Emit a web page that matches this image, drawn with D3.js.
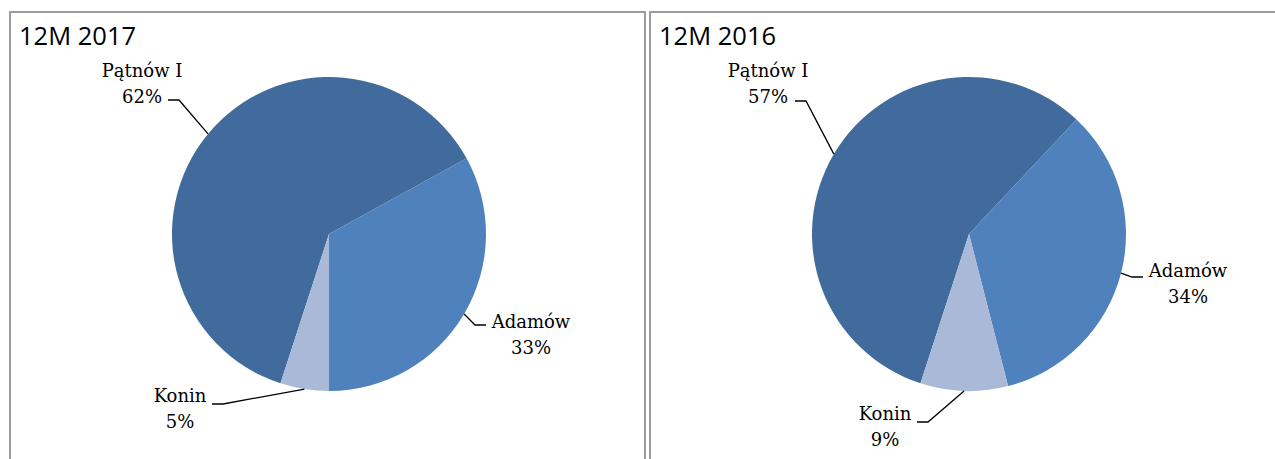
<!DOCTYPE html>
<html>
<head>
<meta charset="utf-8">
<title>12M 2017 / 12M 2016</title>
<script src="https://d3js.org/d3.v7.min.js"></script>
<style>
  body { margin: 0; background: #fff; }
</style>
</head>
<body>
<svg width="1275" height="459"></svg>
<script>
// data
var categories = ["Pątnów I", "Adamów", "Konin"];
var values2017 = [62, 33, 5];
var values2016 = [57, 34, 9];
var titles = ["12M 2017", "12M 2016"];

var colors = ["#416a9d", "#4f81bd", "#aab9d7"];

// layout: panel frame, pie centre, label block (centre x, first baseline) and leader end, relative to centre
var panels = [
  { title: titles[0], values: values2017, x: 10, w: 635, cx: 329, cy: 234,
    label: [[-187, -157], [202, 94], [-149, 168]],
    lead:  [[-161, -134], [157, 91], [-117, 170]] },
  { title: titles[1], values: values2016, x: 650, w: 700, cx: 969, cy: 234,
    label: [[-201, -157], [219, 43], [-84, 186]],
    lead:  [[-174, -133], [174, 43], [-52, 188]] }
];

var r = 157;
var svg = d3.select("svg");

var pie = d3.pie()
    .sort(null)
    .startAngle(198 * Math.PI / 180)
    .endAngle(558 * Math.PI / 180);

var arc = d3.arc().innerRadius(0).outerRadius(r);
var edge = d3.arc().innerRadius(r).outerRadius(r);

panels.forEach(function(p) {
  var g = svg.append("g");

  // frame
  g.append("rect")
    .attr("x", p.x).attr("y", 12)
    .attr("width", p.w).attr("height", 500)
    .style("fill", "none")
    .style("stroke", "#9c9c9c")
    .style("stroke-width", 2);

  g.append("text")
    .attr("x", p.x + 9).attr("y", 45)
    .style("font-family", "'Open Sans', sans-serif")
    .style("font-size", "25.5px")
    .style("fill", "#000")
    .text(p.title);

  var arcs = pie(p.values);
  var c = g.append("g").attr("transform", "translate(" + p.cx + "," + p.cy + ")");

  c.selectAll("path.slice")
    .data(arcs)
    .join("path")
    .attr("class", "slice")
    .attr("d", arc)
    .style("fill", function(d, i) { return colors[i]; });

  // leader lines
  c.selectAll("path.lead")
    .data(arcs)
    .join("path")
    .attr("class", "lead")
    .attr("d", function(d, i) {
      var s = edge.centroid(d);
      var e = p.lead[i];
      var dir = e[0] < s[0] ? 1 : -1;
      var elbow = [e[0] + dir * 11, e[1]];
      return d3.line()([s, elbow, e]);
    })
    .style("fill", "none")
    .style("stroke", "#000")
    .style("stroke-width", 1.3);

  // labels
  var lab = c.selectAll("text.lab")
    .data(arcs)
    .join("text")
    .attr("class", "lab")
    .attr("text-anchor", "middle")
    .style("font-family", "'DejaVu Serif', serif")
    .style("font-size", "18px")
    .style("fill", "#000");

  lab.append("tspan")
    .attr("x", function(d, i) { return p.label[i][0]; })
    .attr("y", function(d, i) { return p.label[i][1]; })
    .text(function(d, i) { return categories[i]; });

  lab.append("tspan")
    .attr("x", function(d, i) { return p.label[i][0]; })
    .attr("y", function(d, i) { return p.label[i][1] + 26; })
    .text(function(d) { return d.value + "%"; });
});
</script>
</body>
</html>
